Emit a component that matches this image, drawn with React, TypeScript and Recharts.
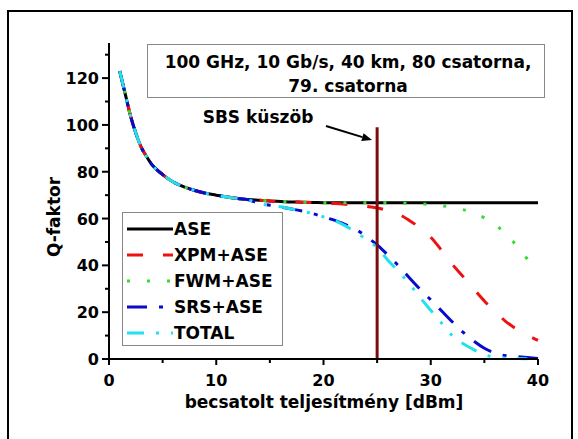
import React from 'react';
import { LineChart, Line, XAxis, YAxis, ReferenceLine } from 'recharts';

// launched power [dBm]
const power = [1, 1.5, 2, 2.5, 3, 3.5, 4, 5, 6, 7, 8, 9, 10, 11, 12, 13, 14, 15, 16, 17, 18, 19, 20,
  21, 22, 23, 24, 25, 26, 27, 28, 29, 30, 31, 32, 33, 34, 35, 36, 37, 38, 39, 40];

const qAse = [123, 113.5, 104, 96.5, 90.5, 86.5, 83, 78.8, 75.6, 73.5, 72, 70.8, 70, 69.2, 68.6, 68.1,
  67.8, 67.5, 67.3, 67.1, 67, 66.9, 66.8,
  66.7, 66.7, 66.7, 66.7, 66.7, 66.7, 66.7, 66.7, 66.7, 66.7, 66.7, 66.7, 66.7, 66.7, 66.7, 66.7, 66.7, 66.7, 66.7, 66.7];

const qXpm = [123, 113.5, 104, 96.5, 90.5, 86.5, 83, 78.8, 75.6, 73.5, 72, 70.8, 70, 69.2, 68.6, 68.1,
  67.8, 67.5, 67.3, 67.1, 67, 66.8, 66.6,
  66.4, 66.1, 65.7, 65.2, 64.5, 63.4, 61.9, 59.2, 56, 52, 46.5, 40.5, 35.3, 30, 24.8, 20.3, 16, 12.8, 10.2, 8];

const qFwm = [123, 113.5, 104, 96.5, 90.5, 86.5, 83, 78.8, 75.6, 73.5, 72, 70.8, 70, 69.2, 68.6, 68.1,
  67.8, 67.5, 67.3, 67.1, 67, 66.9, 66.8,
  66.7, 66.7, 66.7, 66.7, 66.7, 66.7, 66.7, 66.5, 66.3, 66, 65.5, 64.8, 63.8, 62.4, 60.3, 57.5, 53.3, 48.5, 42.7, null];

const qSrs = [123, 113.5, 104, 96.5, 90.5, 86.5, 83, 78.8, 75.6, 73.5, 72, 70.8, 70, 69.2, 68.6, 68,
  66.4, 65.7, 65, 64.1, 63.2, 62.1, 60.7,
  59.3, 57.5, 55.5, 52.2, 48.8, 44.4, 39.8, 34.7, 29.8, 25.3, 20.6, 15.9, 11.5, 7.7, 4.6, 2.5, 1.4, 1, 0.6, 0.2];

const qTotal = [123, 113.5, 104, 96.5, 90.5, 86.5, 83, 78.8, 75.6, 73.5, 72, 70.8, 70, 69.2, 68.6, 68,
  66.4, 65.7, 65, 64.1, 63.2, 62.1, 60.7,
  59.3, 57, 54.2, 51, 47.6, 42.2, 37.4, 32.2, 26.3, 20.8, 15.4, 10, 6.6, 4, 1.8, 0.8, 0.4, 0.2, 0.1, null];

const xTicks = [0, 5, 10, 15, 20, 25, 30, 35, 40];
const yTicks = [0, 10, 20, 30, 40, 50, 60, 70, 80, 90, 100, 110, 120, 130];

const sbsThreshold = 25;
const sbsTop = 99;

const series = [
  { key: 'ase', name: 'ASE', color: '#000000', dash: undefined },
  { key: 'xpm', name: 'XPM+ASE', color: '#ee1111', dash: '16 20' },
  { key: 'fwm', name: 'FWM+ASE', color: '#33dd33', dash: '3 17' },
  { key: 'srs', name: 'SRS+ASE', color: '#0a0acc', dash: '20 12 4 12' },
  { key: 'total', name: 'TOTAL', color: '#22e0ee', dash: '17 12 3 12 3 12' },
];

const data = power.map((p, i) => ({
  x: p,
  ase: qAse[i],
  xpm: qXpm[i],
  fwm: qFwm[i],
  srs: qSrs[i],
  total: qTotal[i],
}));

const FONT = '"DejaVu Sans", Arial, sans-serif';

const XTick = (props: any) => {
  const { x, y, payload } = props;
  const major = payload.value % 10 === 0;
  return (
    <g>
      <line x1={x} y1={y} x2={x} y2={y + (major ? 6 : 4)} stroke="#000" strokeWidth={2} />
      {major && (
        <text x={x} y={y + 27} textAnchor="middle" fontFamily={FONT} fontWeight="bold" fontSize={16} fill="#000">
          {payload.value}
        </text>
      )}
    </g>
  );
};

const YTick = (props: any) => {
  const { x, y, payload } = props;
  const major = payload.value % 20 === 0;
  return (
    <g>
      <line x1={x} y1={y} x2={x - (major ? 7 : 4)} y2={y} stroke="#000" strokeWidth={2} />
      {major && (
        <text x={x - 10} y={y + 6} textAnchor="end" fontFamily={FONT} fontWeight="bold" fontSize={16} fill="#000">
          {payload.value}
        </text>
      )}
    </g>
  );
};

// arrow pointing at the SBS line (pixel coords of the annotation)
const arrow = { x1: 326, y1: 126, x2: 372, y2: 140 };

const ArrowMark = () => {
  const { x1, y1, x2, y2 } = arrow;
  const dx = x2 - x1;
  const dy = y2 - y1;
  const len = Math.sqrt(dx * dx + dy * dy);
  const ux = dx / len;
  const uy = dy / len;
  const hl = 10;
  const hw = 4;
  const bx = x2 - ux * hl;
  const by = y2 - uy * hl;
  return (
    <g>
      <line x1={x1} y1={y1} x2={bx} y2={by} stroke="#000" strokeWidth={2} />
      <polygon
        points={`${x2},${y2} ${bx - uy * hw},${by + ux * hw} ${bx + uy * hw},${by - ux * hw}`}
        fill="#000"
      />
    </g>
  );
};

const LegendBox = () => (
  <g transform="translate(122 212)">
    <rect x={0.5} y={0.5} width={160} height={133} fill="#fff" stroke="#888" strokeWidth={1} />
    {series.map((s, i) => {
      const ry = 17 + i * 26;
      return (
        <g key={s.key}>
          <line x1={5} y1={ry} x2={51} y2={ry} stroke={s.color} strokeWidth={3} strokeDasharray={s.dash} />
          <text x={52} y={ry + 6} fontFamily={FONT} fontWeight="bold" fontSize={17} fill="#000">
            {s.name}
          </text>
        </g>
      );
    })}
  </g>
);

export default function App() {
  return (
    <div style={{ position: 'absolute', left: 0, top: 0, width: 578, height: 439, overflow: 'hidden', background: '#fff' }}>
      <div
        style={{
          position: 'absolute', left: 7, top: 10, width: 566, height: 460,
          border: '2px solid #000', boxSizing: 'border-box',
        }}
      />
      <div style={{ position: 'absolute', left: 0, top: 0 }}>
        <LineChart width={578} height={439} data={data} margin={{ top: 43, right: 40, bottom: 50, left: 49 }}>
          <XAxis
            type="number"
            dataKey="x"
            domain={[0, 40]}
            ticks={xTicks}
            interval={0}
            height={30}
            tickSize={0}
            tickMargin={0}
            tickLine={false}
            tick={<XTick />}
            axisLine={{ stroke: '#000', strokeWidth: 2 }}
          />
          <YAxis
            type="number"
            domain={[0, 135]}
            ticks={yTicks}
            interval={0}
            width={60}
            tickSize={0}
            tickMargin={0}
            tickLine={false}
            tick={<YTick />}
            axisLine={{ stroke: '#000', strokeWidth: 2 }}
          />
          {series.map((s) => (
            <Line
              key={s.key}
              type="monotone"
              dataKey={s.key}
              name={s.name}
              stroke={s.color}
              strokeWidth={3}
              strokeDasharray={s.dash}
              dot={false}
              activeDot={false}
              connectNulls={false}
              isAnimationActive={false}
            />
          ))}
          <ReferenceLine
            segment={[{ x: sbsThreshold, y: 0 }, { x: sbsThreshold, y: sbsTop }]}
            stroke="#7a0c0c"
            strokeWidth={3}
          />
        </LineChart>
      </div>
      <svg width={578} height={439} style={{ position: 'absolute', left: 0, top: 0, pointerEvents: 'none' }}>
        <LegendBox />
        <ArrowMark />
        <rect x={147.5} y={44.5} width={397} height={53} fill="#fff" stroke="#888" strokeWidth={1} />
        <g fontFamily={FONT} fontWeight="bold" fill="#000">
          <text x={348} y={68} textAnchor="middle" fontSize={17}>100 GHz, 10 Gb/s, 40 km, 80 csatorna,</text>
          <text x={348} y={92} textAnchor="middle" fontSize={17}>79. csatorna</text>
          <text x={258} y={123} textAnchor="middle" fontSize={17}>SBS küszöb</text>
          <text x={324} y={408} textAnchor="middle" fontSize={17}>becsatolt teljesítmény [dBm]</text>
          <text x={60} y={217} textAnchor="middle" fontSize={17} transform="rotate(-90 60 217)">Q-faktor</text>
        </g>
      </svg>
    </div>
  );
}
